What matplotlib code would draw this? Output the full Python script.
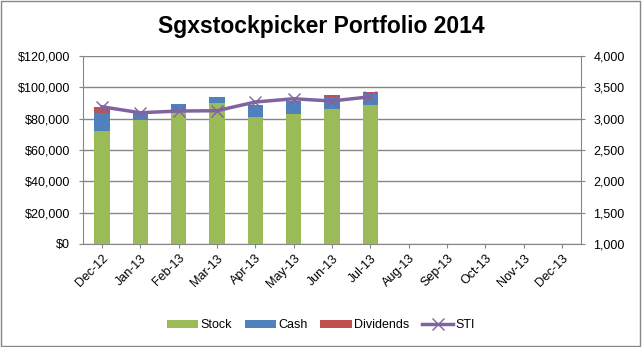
import numpy as np
import matplotlib
matplotlib.use('Agg')
import matplotlib.pyplot as plt
from matplotlib.ticker import FuncFormatter

plt.rcParams['font.family'] = ['Liberation Sans', 'DejaVu Sans']

months = ['Dec-12', 'Jan-13', 'Feb-13', 'Mar-13', 'Apr-13', 'May-13', 'Jun-13',
          'Jul-13', 'Aug-13', 'Sep-13', 'Oct-13', 'Nov-13', 'Dec-13']
stock = [72200, 79000, 85500, 90100, 81000, 83100, 86100, 88800]
cash = [11100, 4300, 4000, 3800, 7800, 8300, 7600, 7000]
dividends = [4000, 0, 0, 0, 0, 0, 1500, 1100]
sti = [3188, 3093, 3120, 3125, 3264, 3316, 3280, 3348]

grey = '#868686'
fs = 9
fig = plt.figure(figsize=(6.42, 3.47), dpi=100)
ax = fig.add_axes([0.129, 0.297, 0.776, 0.542])
x = np.arange(len(stock))
w = 0.4
ax.bar(x, stock, w, color='#9BBB59', label='Stock', zorder=2)
ax.bar(x, cash, w, bottom=stock, color='#4F81BD', label='Cash', zorder=2)
ax.bar(x, dividends, w, bottom=np.array(stock) + np.array(cash),
       color='#C0504D', label='Dividends', zorder=2)
ax.set_xlim(-0.5, len(months) - 0.5)
ax.set_ylim(0, 120000)
ax.set_yticks(range(0, 120001, 20000))
ax.yaxis.set_major_formatter(FuncFormatter(lambda v, p: '${:,.0f}'.format(v)))
ax.set_xticks(np.arange(len(months)))
ax.set_xticklabels(months, rotation=45, ha='right', rotation_mode='anchor')
ax.grid(axis='y', color=grey, linewidth=1, zorder=0)
ax.tick_params(axis='y', length=3, color=grey, labelsize=fs, pad=6)
ax.tick_params(axis='x', length=3, color=grey, labelsize=fs, pad=3)
for s in ['top', 'right']:
    ax.spines[s].set_visible(False)
for s in ['left', 'bottom']:
    ax.spines[s].set_color(grey)

ax2 = ax.twinx()
ax2.plot(x, sti, color='#8064A2', linewidth=2.5, marker='x', markersize=8,
         markeredgewidth=1, label='STI', zorder=3)
ax2.set_ylim(1000, 4000)
ax2.set_yticks(range(1000, 4001, 500))
ax2.yaxis.set_major_formatter(FuncFormatter(lambda v, p: '{:,.0f}'.format(v)))
ax2.tick_params(axis='y', length=3, color=grey, labelsize=fs, pad=6)
for s in ['top', 'left', 'bottom']:
    ax2.spines[s].set_visible(False)
ax2.spines['right'].set_color(grey)

h1, l1 = ax.get_legend_handles_labels()
h2, l2 = ax2.get_legend_handles_labels()
fig.legend(h1 + h2, l1 + l2, loc='center', bbox_to_anchor=(0.5, 0.063), ncol=4,
           frameon=False, fontsize=fs, handlelength=2.5, handleheight=0.6,
           columnspacing=1.0, handletextpad=0.2)

fig.text(0.5, 0.905, 'Sgxstockpicker Portfolio 2014', ha='center', va='baseline',
         fontsize=16.5, fontweight='bold')
fig.patches.append(plt.Rectangle((0.002, 0.003), 0.995, 0.993, transform=fig.transFigure,
                                 fill=False, edgecolor=grey, linewidth=1))
fig.savefig('out.png', dpi=100)
